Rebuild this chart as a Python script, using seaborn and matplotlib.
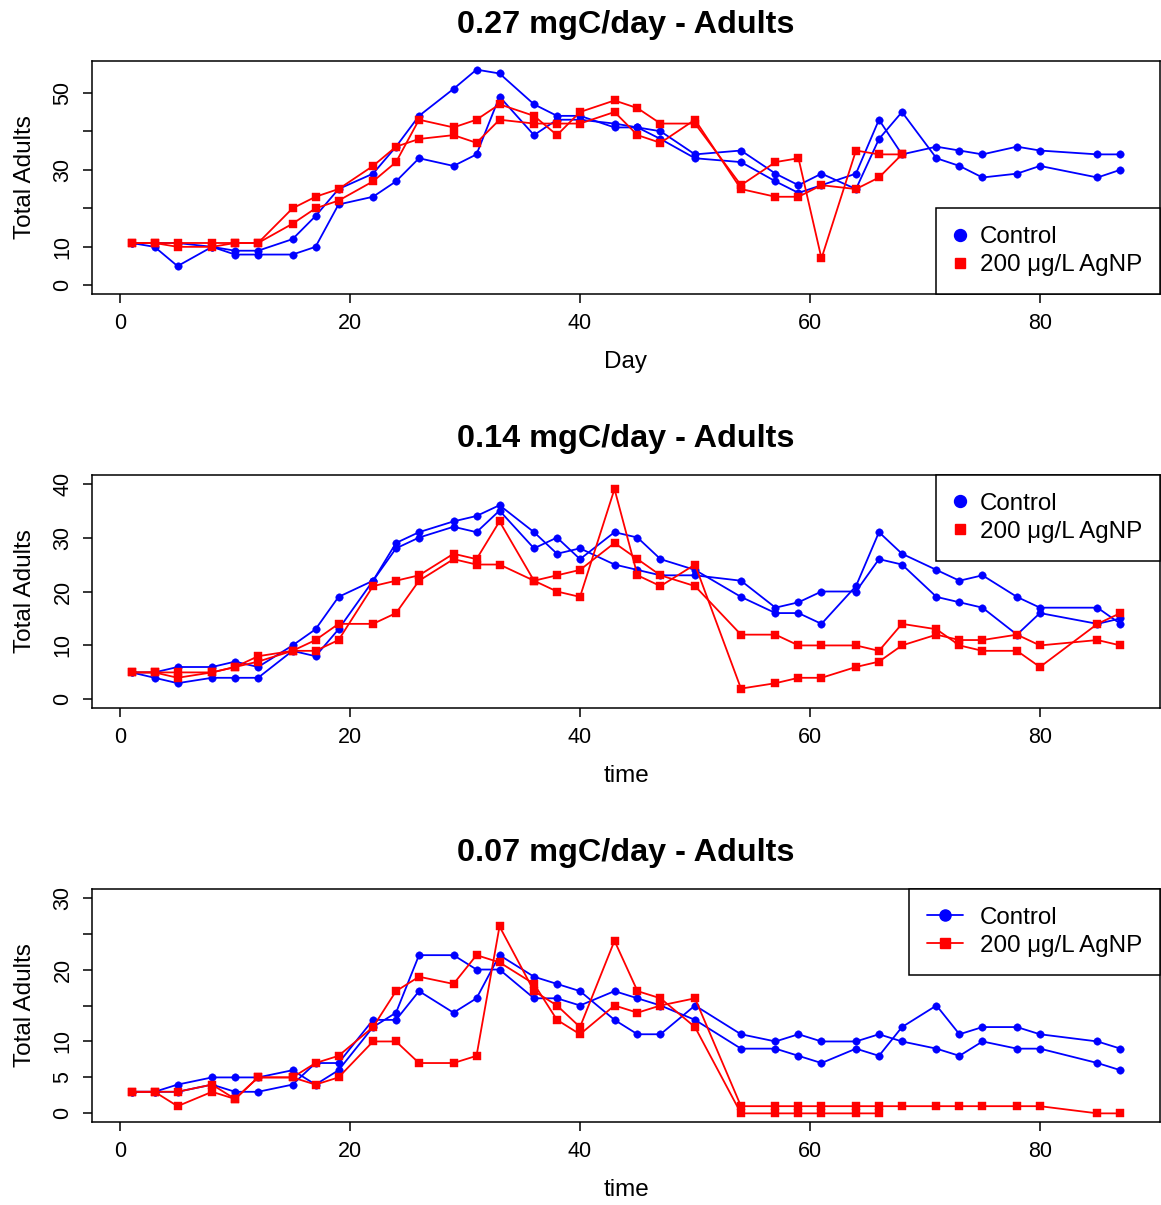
import numpy as np
import pandas as pd
import matplotlib
matplotlib.use("Agg")
import matplotlib.pyplot as plt
from matplotlib.lines import Line2D
import seaborn as sns

sns.set_style("ticks")
plt.rcParams["font.family"] = ["Liberation Sans", "DejaVu Sans"]
plt.rcParams["text.color"] = "black"
plt.rcParams["axes.labelcolor"] = "black"
plt.rcParams["xtick.color"] = "black"
plt.rcParams["ytick.color"] = "black"
plt.rcParams["axes.edgecolor"] = "black"

nan = np.nan

# ---------------- data ----------------
days = [1, 3, 5, 8, 10, 12, 15, 17, 19, 22, 24, 26, 29, 31, 33, 36, 38, 40,
        43, 45, 47, 50, 54, 57, 59, 61, 64, 66, 68, 71, 73, 75, 78, 80, 85, 87]

titles = ["0.27 mgC/day - Adults", "0.14 mgC/day - Adults", "0.07 mgC/day - Adults"]
xlabels = ["Day", "time", "time"]
ylabel = "Total Adults"
group_labels = ["Control", "200 \u03bcg/L AgNP"]

# Panel 1 : 0.27 mgC/day
p1_control_a = [11, 11, 11, 10, 9, 9, 12, 18, 25, 29, 36, 44, 51, 56, 55, 47, 44, 44,
                41, 41, 40, 34, 35, 29, 26, 29, 25, 38, 45, 33, 31, 28, 29, 31, 28, 30]
p1_control_b = [11, 10, 5, 10, 8, 8, 8, 10, 21, 23, 27, 33, 31, 34, 49, 39, 43, 43,
                42, 41, 38, 33, 32, 27, 24, 26, 29, 43, 34, 36, 35, 34, 36, 35, 34, 34]
p1_agnp_a = [11, 11, 11, 11, 11, 11, 20, 23, 25, 31, 36, 38, 39, 37, 43, 42, 42, 42,
             45, 39, 37, 43, 25, 23, 23, 26, 25, 28, 34, nan, nan, nan, nan, nan, nan, nan]
p1_agnp_b = [11, 11, 10, 10, 11, 11, 16, 20, 22, 27, 32, 43, 41, 43, 47, 44, 39, 45,
             48, 46, 42, 42, 26, 32, 33, 7, 35, 34, 34, nan, nan, nan, nan, nan, nan, nan]

# Panel 2 : 0.14 mgC/day
p2_control_a = [5, 5, 6, 6, 7, 6, 10, 13, 19, 22, 29, 31, 33, 34, 36, 31, 27, 28,
                25, 24, 23, 23, 22, 17, 18, 20, 20, 26, 25, 19, 18, 17, 12, 16, 14, 15]
p2_control_b = [5, 4, 3, 4, 4, 4, 9, 8, 13, 22, 28, 30, 32, 31, 35, 28, 30, 26,
                31, 30, 26, 24, 19, 16, 16, 14, 21, 31, 27, 24, 22, 23, 19, 17, 17, 14]
p2_agnp_a = [5, 5, 5, 5, 6, 8, 9, 9, 11, 21, 22, 23, 27, 26, 33, 22, 20, 19,
             39, 23, 21, 25, 2, 3, 4, 4, 6, 7, 10, 12, 11, 11, 12, 10, 11, 10]
p2_agnp_b = [5, 5, 4, 5, 6, 7, 9, 11, 14, 14, 16, 22, 26, 25, 25, 22, 23, 24,
             29, 26, 23, 21, 12, 12, 10, 10, 10, 9, 14, 13, 10, 9, 9, 6, 14, 16]

# Panel 3 : 0.07 mgC/day
p3_control_a = [3, 3, 4, 5, 5, 5, 6, 4, 6, 12, 14, 22, 22, 20, 20, 16, 16, 15,
                17, 16, 15, 13, 9, 9, 8, 7, 9, 8, 12, 15, 11, 12, 12, 11, 10, 9]
p3_control_b = [3, 3, 3, 4, 3, 3, 4, 7, 7, 13, 13, 17, 14, 16, 22, 19, 18, 17,
                13, 11, 11, 15, 11, 10, 11, 10, 10, 11, 10, 9, 8, 10, 9, 9, 7, 6]
p3_agnp_a = [3, 3, 3, 4, 2, 5, 5, 7, 8, 12, 17, 19, 18, 22, 21, 18, 13, 11,
             15, 14, 15, 16, 1, 1, 1, 1, 1, 1, 1, 1, 1, 1, 1, 1, 0, 0]
p3_agnp_b = [3, 3, 1, 3, 2, 5, 5, 4, 5, 10, 10, 7, 7, 8, 26, 17, 15, 12,
             24, 17, 16, 12, 0, 0, 0, 0, 0, 0, nan, nan, nan, nan, nan, nan, nan, nan]

xticks = [0, 20, 40, 60, 80]
p1_yticks = [0, 10, 20, 30, 40, 50]
p1_yticklabels = ["0", "10", "", "30", "", "50"]
p2_yticks = [0, 10, 20, 30, 40]
p2_yticklabels = ["0", "10", "20", "30", "40"]
p3_yticks = [0, 5, 10, 15, 20, 25, 30]
p3_yticklabels = ["0", "5", "10", "", "20", "", "30"]

# ---------------- style ----------------
BLUE = "#0000FF"
RED = "#FF0000"
W, H = 1161, 1205
fig = plt.figure(figsize=(W / 100, H / 100), dpi=100)


def px_axes(left, top, right, bottom):
    return fig.add_axes([left / W, 1 - bottom / H, (right - left) / W, (bottom - top) / H])


panels = [
    dict(top=61, bottom=294, ctrl=[p1_control_a, p1_control_b], agnp=[p1_agnp_a, p1_agnp_b],
         ylim=(0, 56), yt=p1_yticks, ytl=p1_yticklabels, legend="lower right", leg_lines=False),
    dict(top=475, bottom=708, ctrl=[p2_control_a, p2_control_b], agnp=[p2_agnp_a, p2_agnp_b],
         ylim=(0, 40), yt=p2_yticks, ytl=p2_yticklabels, legend="upper right", leg_lines=False),
    dict(top=889, bottom=1122, ctrl=[p3_control_a, p3_control_b], agnp=[p3_agnp_a, p3_agnp_b],
         ylim=(0, 30), yt=p3_yticks, ytl=p3_yticklabels, legend="upper right", leg_lines=True),
]

xr = (min(days), max(days))
xpad = 0.04 * (xr[1] - xr[0])

for i, p in enumerate(panels):
    ax = px_axes(92, p["top"], 1160, p["bottom"])
    for vals in p["ctrl"]:
        sns.lineplot(x=days, y=vals, ax=ax, color=BLUE, marker="o", markersize=5.4,
                     markeredgecolor=BLUE, markeredgewidth=0.3, linewidth=1.3,
                     estimator=None, legend=False)
    for vals in p["agnp"]:
        sns.lineplot(x=days, y=vals, ax=ax, color=RED, marker="s", markersize=5.8,
                     markeredgecolor=RED, markeredgewidth=0.3, linewidth=1.3,
                     estimator=None, legend=False)

    y0, y1 = p["ylim"]
    ypad = 0.04 * (y1 - y0)
    ax.set_xlim(xr[0] - xpad, xr[1] + xpad)
    ax.set_ylim(y0 - ypad, y1 + ypad)
    ax.set_xticks(xticks)
    ax.set_xticklabels([str(t) for t in xticks], fontsize=15.5)
    ax.set_yticks(p["yt"])
    ax.set_yticklabels(p["ytl"], fontsize=15.5, rotation=90, va="center")
    ax.tick_params(axis="both", direction="out", length=6.8, width=1.1, color="black",
                   labelcolor="black")
    ax.tick_params(axis="x", pad=7.0)
    ax.tick_params(axis="y", pad=6.5)
    for s in ax.spines.values():
        s.set_visible(True)
        s.set_color("black")
        s.set_linewidth(1.1)
    ax.grid(False)

    ax.set_title(titles[i], fontsize=23.3, fontweight="bold", pad=20.5, color="black")
    ax.set_xlabel(xlabels[i], fontsize=17.5, color="black")
    ax.set_ylabel(ylabel, fontsize=17.5, color="black")
    hgt = p["bottom"] - p["top"]
    ax.xaxis.set_label_coords(0.5, -57 / hgt)
    ax.xaxis.label.set_va("top")
    ax.yaxis.set_label_coords((36 - 92) / 1068, 0.5)

    if p["leg_lines"]:
        handles = [Line2D([], [], color=BLUE, marker="o", linestyle="-", linewidth=1.3, markersize=8),
                   Line2D([], [], color=RED, marker="s", linestyle="-", linewidth=1.3, markersize=7.5)]
        hl, htp = 1.5, 0.7
    else:
        handles = [Line2D([], [], color=BLUE, marker="o", linestyle="None", markersize=8.6),
                   Line2D([], [], color=RED, marker="s", linestyle="None", markersize=7.7)]
        hl, htp = 0.5, 0.56
    anchor = (1, 0) if p["legend"] == "lower right" else (1, 1)
    leg = ax.legend(handles, group_labels, loc=p["legend"], bbox_to_anchor=anchor,
                    borderaxespad=0, fontsize=17.4, frameon=True, fancybox=False,
                    framealpha=1, edgecolor="black", borderpad=0.74, labelspacing=0.24,
                    handlelength=hl, handletextpad=htp)
    leg.get_frame().set_linewidth(1.1)
    for t in leg.get_texts():
        t.set_color("black")

fig.savefig("out.png", dpi=100)
